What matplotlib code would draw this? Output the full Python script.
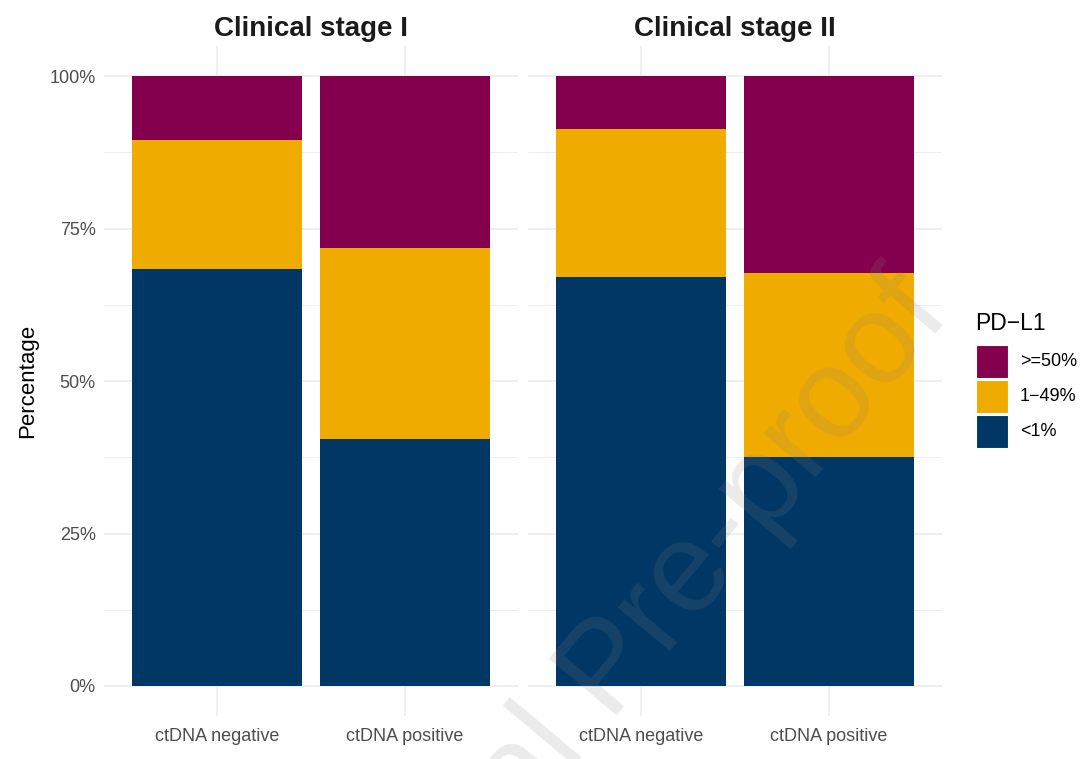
import matplotlib.pyplot as plt
from matplotlib.patches import Rectangle

plt.rcParams["font.family"] = ["Liberation Sans", "DejaVu Sans"]

stages = ["Clinical stage I", "Clinical stage II"]
groups = ["ctDNA negative", "ctDNA positive"]
levels = ["<1%", "1\u221249%", ">=50%"]
colors = ["#003764", "#F0AB00", "#84004F"]

# percentages per stage: rows = groups, cols = levels (<1%, 1-49%, >=50%)
stage1 = [[68.4, 21.1, 10.5], [40.5, 31.3, 28.2]]
stage2 = [[67.0, 24.3, 8.7], [37.5, 30.2, 32.3]]
stage_data = [stage1, stage2]

yticks = [0, 25, 50, 75, 100]
ytick_labels = ["0%", "25%", "50%", "75%", "100%"]

fig = plt.figure(figsize=(10.8, 7.59), dpi=100)
ax_boxes = [[0.0963, 0.056, 0.3833, 0.884], [0.4889, 0.056, 0.3833, 0.884]]

grid_col = "#EBEBEB"
for i, (stage, data) in enumerate(zip(stages, stage_data)):
  ax = fig.add_axes(ax_boxes[i])
  x = list(range(len(groups)))
  for j, lev in enumerate(levels):
    bottoms = [sum(row[:j]) for row in data]
    vals = [row[j] for row in data]
    ax.bar(x, vals, bottom=bottoms, width=0.9, color=colors[j], zorder=3, linewidth=0)
  ax.set_xlim(-0.6, 1.6)
  ax.set_ylim(-5, 105)
  ax.set_yticks(yticks)
  ax.set_yticks([12.5, 37.5, 62.5, 87.5], minor=True)
  ax.set_xticks(x)
  ax.set_xticklabels(groups, fontsize=13, color="#4D4D4D")
  if i == 0:
    ax.set_yticklabels(ytick_labels, fontsize=13, color="#4D4D4D")
    ax.set_ylabel("Percentage", fontsize=16, labelpad=8)
  else:
    ax.set_yticklabels([])
  ax.tick_params(axis="x", length=0, pad=8)
  ax.tick_params(axis="y", which="both", length=0, pad=6)
  ax.grid(True, which="major", color=grid_col, linewidth=1.1, zorder=0)
  ax.grid(True, which="minor", axis="y", color=grid_col, linewidth=0.6, zorder=0)
  for s in ax.spines.values():
    s.set_visible(False)
  ax.set_title(stage, fontsize=20, fontweight="bold", color="#1A1A1A", pad=7)

# legend
fig.text(975 / 1080, 1 - 324 / 759, "PD\u2212L1", fontsize=16.5, va="center", ha="left")
key_tops = [345, 380, 415]
for k, j in enumerate([2, 1, 0]):
  top = key_tops[k]
  fig.patches.append(Rectangle((976 / 1080, 1 - (top + 33) / 759), 32 / 1080, 33 / 759,
                               transform=fig.transFigure, facecolor=colors[j], edgecolor="white", linewidth=0.8))
  fig.text(1020 / 1080, 1 - (top + 16.5) / 759, levels[j], fontsize=13, va="center", ha="left")

# watermark
fig.text(0.565, 0.115, "Journal Pre-proof", fontsize=92, color="gray", alpha=0.16,
         rotation=50, ha="center", va="center", rotation_mode="anchor")

fig.savefig("out.png", dpi=100)
